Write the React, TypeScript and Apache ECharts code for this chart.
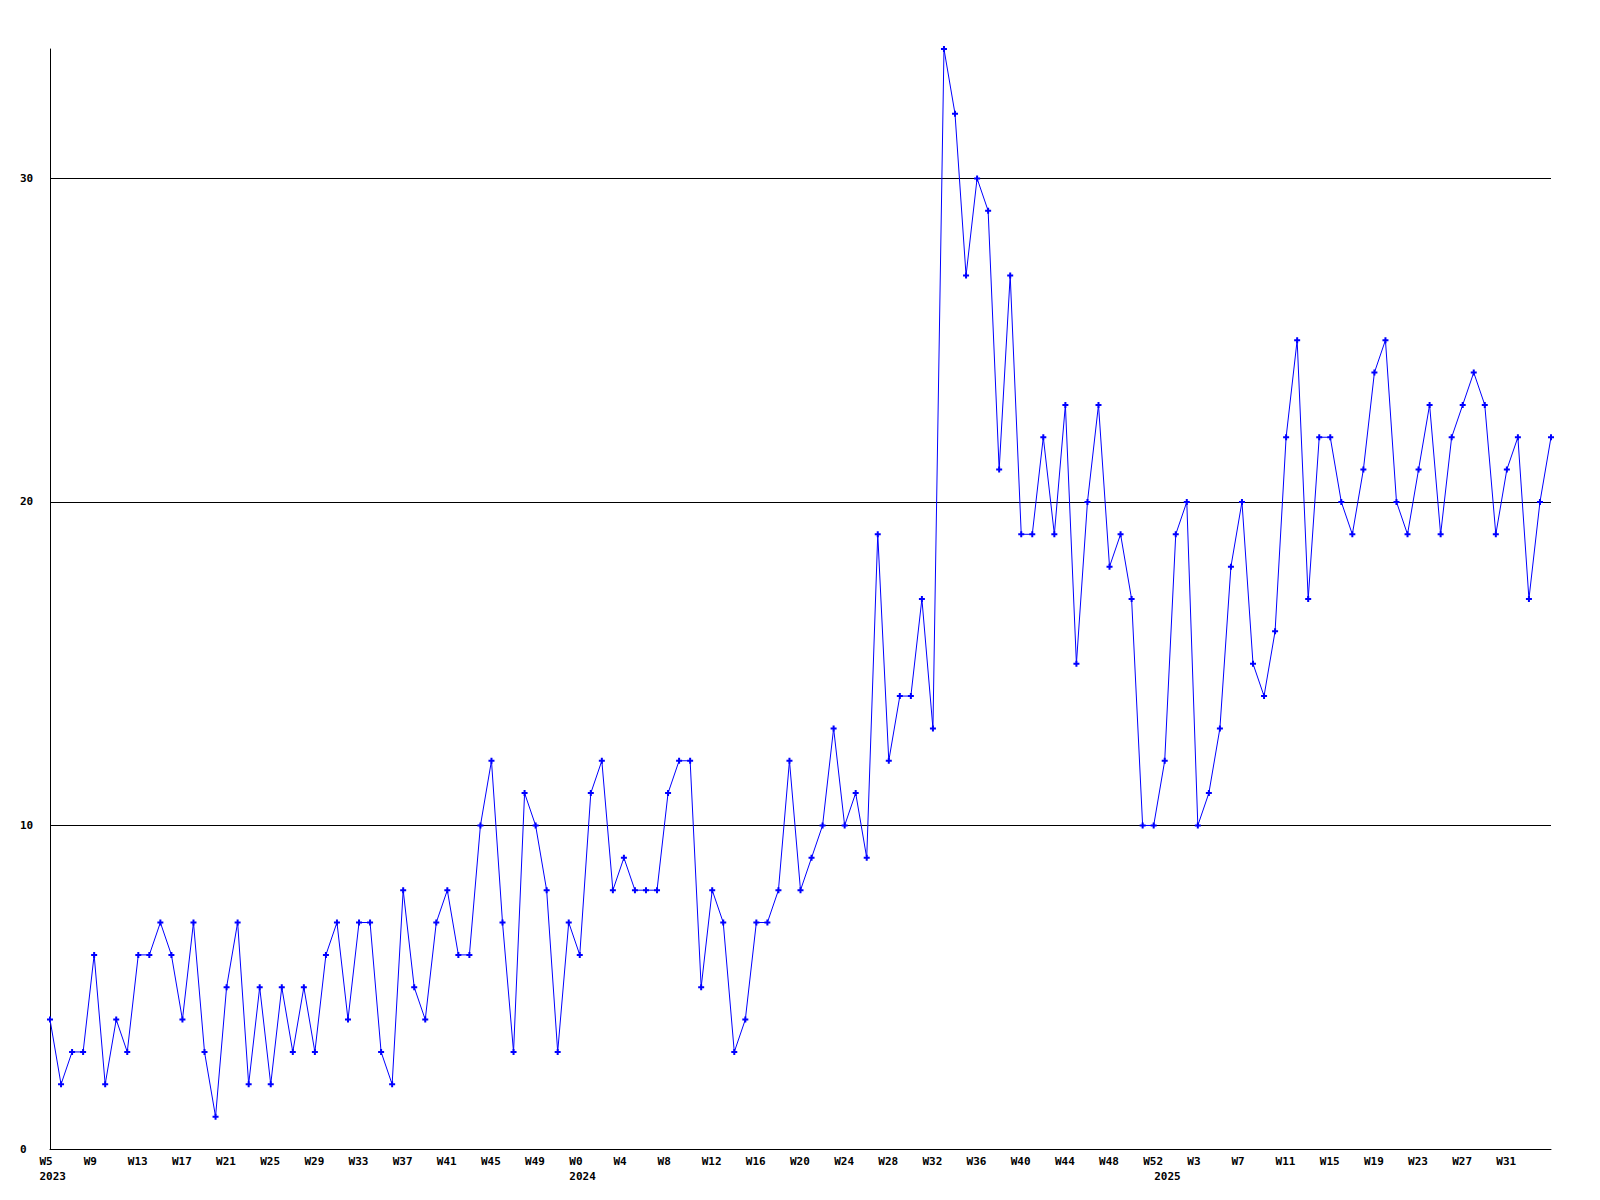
import React, { useEffect, useRef } from "react";
import * as echarts from "echarts";

const weeks2023 = [
  "W5", "W6", "W7", "W8", "W9", "W10", "W11", "W12", "W13", "W14", "W15", "W16",
  "W17", "W18", "W19", "W20", "W21", "W22", "W23", "W24", "W25", "W26", "W27", "W28",
  "W29", "W30", "W31", "W32", "W33", "W34", "W35", "W36", "W37", "W38", "W39", "W40",
  "W41", "W42", "W43", "W44", "W45", "W46", "W47", "W48", "W49", "W50", "W51", "W52",
];
const weeks2024 = [
  "W0", "W1", "W2", "W3", "W4", "W5", "W6", "W7", "W8", "W9", "W10", "W11", "W12",
  "W13", "W14", "W15", "W16", "W17", "W18", "W19", "W20", "W21", "W22", "W23", "W24",
  "W25", "W26", "W27", "W28", "W29", "W30", "W31", "W32", "W33", "W34", "W35", "W36",
  "W37", "W38", "W39", "W40", "W41", "W42", "W43", "W44", "W45", "W46", "W47", "W48",
  "W49", "W50", "W51", "W52",
];
const weeks2025 = [
  "W0", "W1", "W2", "W3", "W4", "W5", "W6", "W7", "W8", "W9", "W10", "W11", "W12",
  "W13", "W14", "W15", "W16", "W17", "W18", "W19", "W20", "W21", "W22", "W23", "W24",
  "W25", "W26", "W27", "W28", "W29", "W30", "W31", "W32", "W33", "W34", "W35",
];
const years = ["2023", "2024", "2025"];

const values2023 = [
  4, 2, 3, 3, 6, 2, 4, 3, 6, 6, 7, 6, 4, 7, 3, 1, 5, 7, 2, 5, 2, 5, 3, 5,
  3, 6, 7, 4, 7, 7, 3, 2, 8, 5, 4, 7, 8, 6, 6, 10, 12, 7, 3, 11, 10, 8, 3, 7,
];
const values2024 = [
  6, 11, 12, 8, 9, 8, 8, 8, 11, 12, 12, 5, 8, 7, 3, 4, 7, 7, 8, 12, 8, 9, 10, 13,
  10, 11, 9, 19, 12, 14, 14, 17, 13, 34, 32, 27, 30, 29, 21, 27, 19, 19, 22, 19, 23, 15,
  20, 23, 18, 19, 17, 10, 10,
];
const values2025 = [
  12, 19, 20, 10, 11, 13, 18, 20, 15, 14, 16, 22, 25, 17, 22, 22, 20, 19, 21, 24,
  25, 20, 19, 21, 23, 19, 22, 23, 24, 23, 19, 21, 22, 17, 20, 22,
];

const yTicks = { min: 0, max: 34, interval: 10 };

const FONT = "'DejaVu Sans Mono', 'Liberation Mono', monospace";

export default function App() {
  const ref = useRef<HTMLDivElement>(null);

  useEffect(() => {
    document.body.style.margin = "0";
    if (!ref.current) return;
    const chart = echarts.init(ref.current, undefined, { renderer: "svg" });

    const categories = [...weeks2023, ...weeks2024, ...weeks2025];
    const data = [...values2023, ...values2024, ...values2025];
    const lastIndex = categories.length - 1;
    const yearAt: Record<number, string> = {
      0: years[0],
      [weeks2023.length]: years[1],
      [weeks2023.length + weeks2024.length]: years[2],
    };

    chart.setOption({
      animation: false,
      backgroundColor: "#ffffff",
      grid: { left: 50, right: 49, top: 49, bottom: 51, containLabel: false },
      xAxis: {
        type: "category",
        data: categories,
        boundaryGap: false,
        axisLine: { show: true, lineStyle: { color: "#000000", width: 1 } },
        axisTick: { show: false },
        splitLine: { show: false },
        axisLabel: {
          interval: 0,
          margin: 5,
          align: "center",
          color: "#000000",
          formatter: (value: string, index: number) => {
            const top = index % 4 === 0 && index !== lastIndex ? value : "";
            const yr = yearAt[index] || "";
            if (!top && !yr) return "";
            if (!yr) return `{w|${top}}`;
            return `{w|${top || "\u00a0"}}\n{w|${yr}}`;
          },
          rich: {
            w: {
              width: 21,
              align: "left",
              fontFamily: FONT,
              fontWeight: "bold",
              fontSize: 11,
              lineHeight: 15,
              color: "#000000",
            },
          },
        },
      },
      yAxis: {
        type: "value",
        min: yTicks.min,
        max: yTicks.max,
        interval: yTicks.interval,
        axisLine: { show: true, lineStyle: { color: "#000000", width: 1 } },
        axisTick: { show: false },
        splitLine: {
          show: true,
          showMaxLine: false,
          lineStyle: { color: "#000000", width: 1 },
        },
        axisLabel: {
          showMaxLabel: false,
          align: "left",
          margin: 30,
          color: "#000000",
          fontFamily: FONT,
          fontWeight: "bold",
          fontSize: 11,
        },
      },
      series: [
        {
          type: "line",
          data,
          showAllSymbol: true,
          symbol: "path://M2,0H4V2H6V4H4V6H2V4H0V2H2Z",
          symbolSize: 6,
          itemStyle: { color: "#0000ff" },
          lineStyle: { color: "#0000ff", width: 1 },
          clip: false,
        },
      ],
    });

    return () => chart.dispose();
  }, []);

  return <div ref={ref} style={{ width: 1600, height: 1200 }} />;
}
